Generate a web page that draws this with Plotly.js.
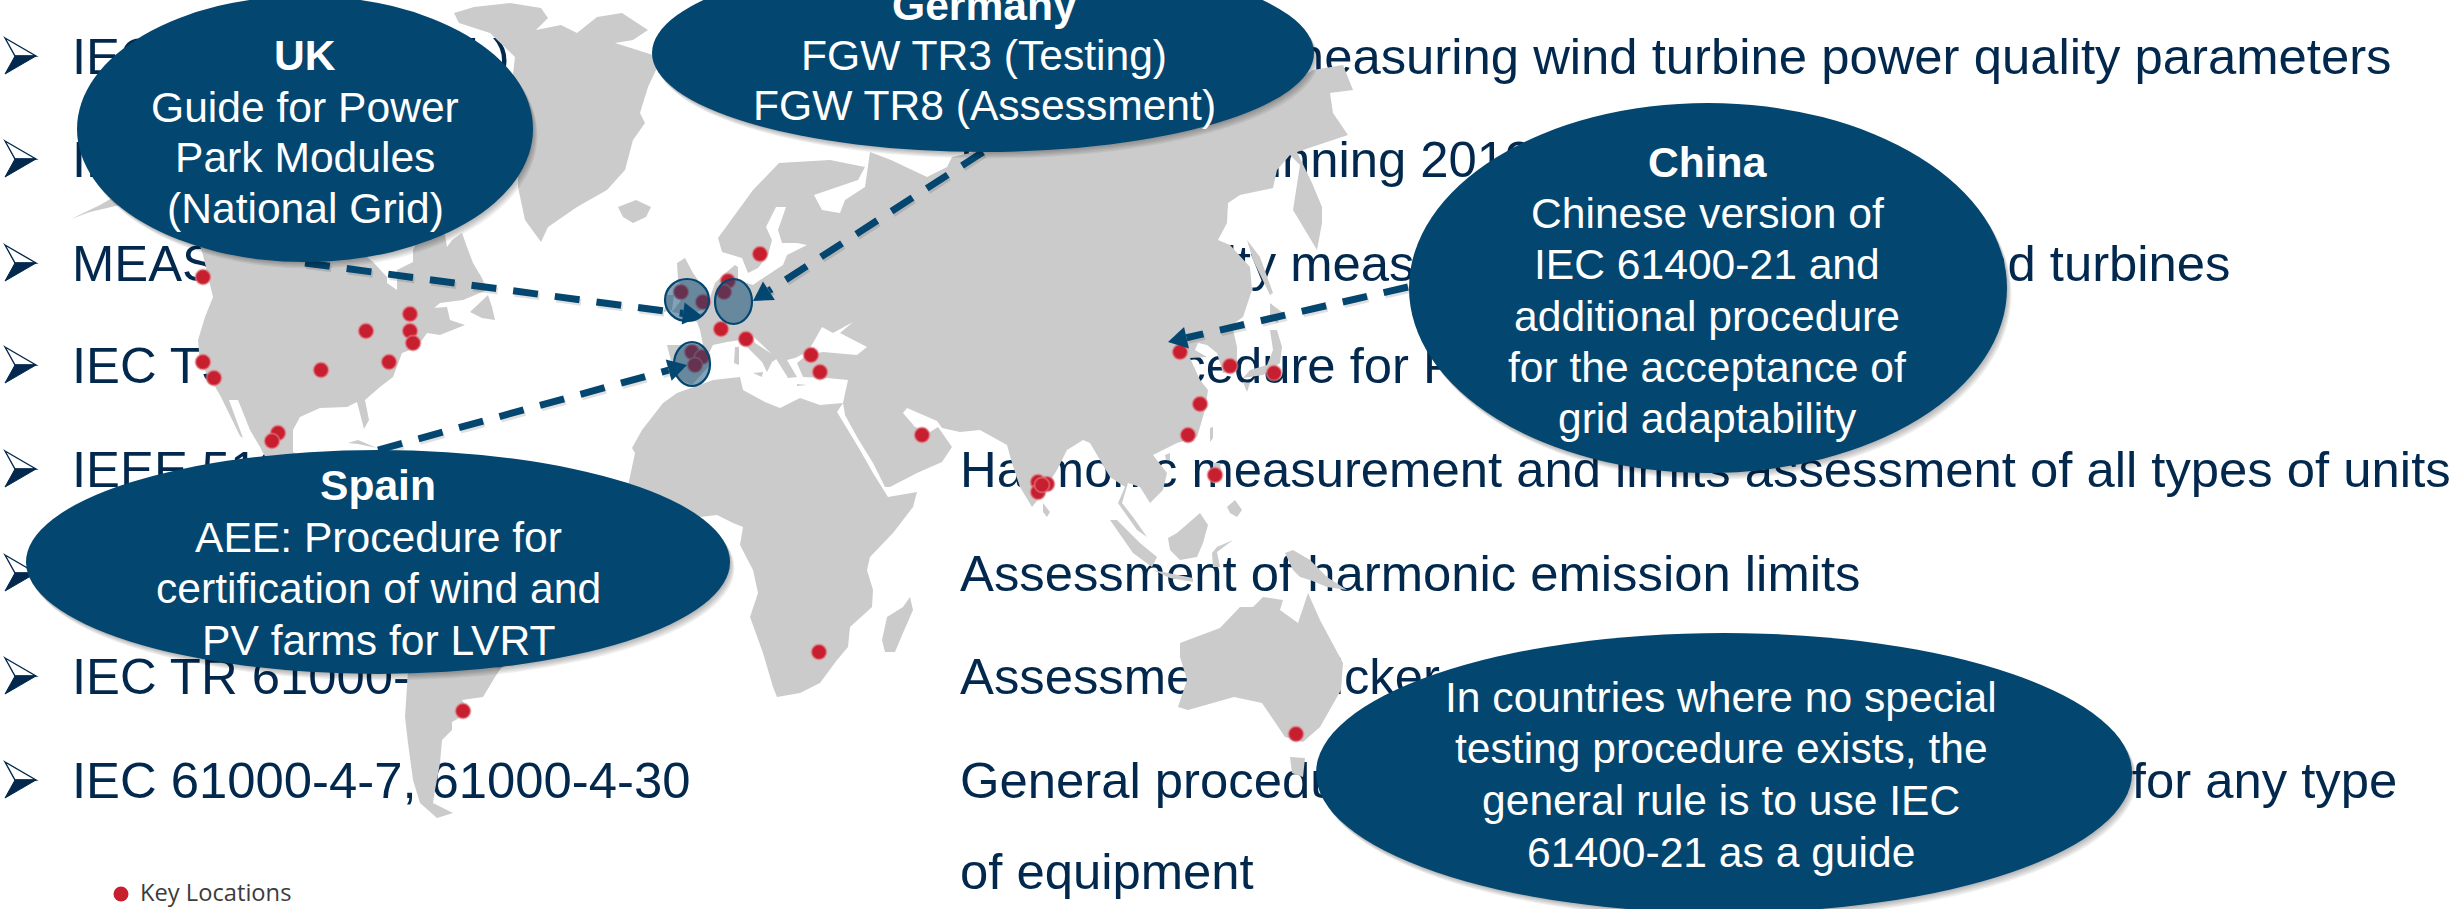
<!DOCTYPE html>
<html>
<head>
<meta charset="utf-8">
<script src="https://cdn.plot.ly/plotly-3.0.1.min.js"></script>
<style>
html,body{margin:0;padding:0;background:#fff;overflow:hidden}
#slide{width:2450px;height:909px}
</style>
</head>
<body>
<div id="slide"></div>
<script>
// Standards listed down the slide
const standards = ["IEC 61400-21 (Ed.)","IEC 61400-21 series","MEASNET","IEC TS 61400","IEEE 519","IEC TR 61000-3-6","IEC TR 61000-3-7","IEC 61000-4-7, 61000-4-30"];
const standardRows = [56,159,263,365,469,573,676,780];
const descriptions = [
  "Procedure for measuring wind turbine power quality parameters",
  "Expected beginning 2019",
  "Power Quality measurement procedure for wind turbines",
  "Same procedure for PV",
  "Harmonic measurement and limits assessment of all types of units",
  "Assessment of harmonic emission limits",
  "Assessment of flicker emission limits",
  "General procedure for assessing power quality dips for any type",
  "of equipment"
];
const descriptionRows = [56,159,263,365,469,573,676,780,871];

// Land outlines
const eurasia = [[667,345],[690,345],[703,345],[700,330],[697,322],[687,318],[705,312],[715,283],[723,275],[735,265],[738,267],[738,280],[753,285],[760,280],[773,272],[783,265],[787,255],[807,245],[797,243],[782,243],[778,230],[786,207],[776,207],[766,227],[772,240],[768,255],[758,268],[748,273],[742,258],[722,252],[718,238],[733,217],[753,190],[779,163],[830,160],[865,167],[858,180],[814,195],[822,210],[840,213],[845,200],[865,187],[870,152],[891,160],[927,177],[947,167],[952,157],[983,150],[1100,120],[1250,110],[1313,70],[1343,65],[1353,90],[1330,93],[1333,113],[1348,135],[1323,143],[1297,152],[1312,183],[1322,207],[1322,223],[1317,250],[1293,210],[1300,165],[1290,155],[1277,170],[1273,188],[1240,195],[1228,203],[1227,223],[1218,240],[1230,245],[1250,267],[1252,290],[1243,317],[1232,325],[1237,347],[1237,370],[1223,373],[1217,353],[1207,345],[1198,343],[1195,350],[1207,357],[1190,358],[1200,380],[1208,390],[1205,410],[1197,437],[1177,443],[1153,455],[1167,473],[1163,490],[1150,503],[1140,487],[1128,483],[1122,503],[1133,517],[1147,537],[1137,530],[1118,503],[1125,487],[1110,477],[1090,443],[1083,440],[1067,450],[1057,470],[1040,497],[1032,507],[1020,487],[1012,463],[1007,445],[998,440],[980,430],[960,432],[942,428],[937,421],[907,408],[903,413],[915,427],[930,432],[938,427],[952,447],[942,462],[917,473],[890,487],[885,487],[873,463],[857,437],[845,415],[843,403],[848,380],[827,378],[803,377],[797,363],[807,355],[823,352],[857,355],[867,347],[853,340],[840,333],[853,322],[833,333],[822,327],[813,343],[807,352],[795,358],[787,360],[797,377],[788,378],[780,365],[775,357],[757,340],[750,333],[755,343],[770,353],[778,358],[772,362],[767,372],[762,362],[752,352],[740,340],[727,342],[713,345],[708,355],[710,365],[692,385],[675,377]];
const africa = [[663,403],[677,393],[713,380],[740,377],[743,390],[765,402],[780,408],[800,398],[820,405],[843,403],[837,412],[860,450],[873,473],[888,497],[917,492],[913,507],[893,533],[870,557],[867,570],[873,590],[872,607],[850,627],[848,647],[837,660],[820,683],[800,693],[777,697],[773,687],[763,653],[750,617],[758,593],[753,570],[740,545],[743,527],[733,523],[717,515],[700,517],[650,560],[625,500],[630,477],[635,453],[632,448],[642,430]];
const northAmerica = [[198,240],[203,255],[213,297],[205,317],[198,340],[200,363],[213,383],[221,397],[240,436],[243,438],[229,400],[238,400],[250,430],[260,447],[275,475],[310,500],[340,495],[330,470],[293,452],[293,430],[300,417],[320,408],[347,407],[357,402],[364,429],[369,420],[365,400],[380,387],[393,377],[402,353],[410,350],[420,343],[427,333],[440,335],[465,325],[450,320],[447,307],[433,308],[420,320],[440,303],[463,300],[487,290],[482,278],[473,263],[467,247],[462,233],[452,240],[447,247],[445,235],[430,215],[413,250],[413,262],[397,270],[397,290],[387,283],[387,277],[373,262],[367,257],[340,230],[250,200],[198,200]];
const southAmerica = [[410,640],[405,717],[408,743],[413,780],[420,803],[437,818],[453,813],[433,803],[435,790],[440,763],[442,740],[452,730],[452,722],[470,712],[462,700],[483,697],[495,677],[520,640],[500,600],[410,600]];
const greenland = [[454,13],[474,7],[510,3],[541,8],[548,18],[536,30],[561,25],[577,33],[597,17],[622,13],[648,30],[633,40],[615,43],[653,55],[656,70],[648,87],[640,113],[645,123],[633,140],[625,170],[607,190],[577,207],[548,227],[541,242],[525,220],[518,187],[518,160],[510,100],[515,57],[490,33],[459,23]];
const aleutians = [[71,219],[100,205],[112,198],[120,205],[90,212]];
const iceland = [[618,207],[636,200],[651,207],[646,217],[633,223],[623,217]];
const newfoundland = [[470,312],[480,303],[488,295],[492,307],[495,320],[482,318]];
const cuba = [[348,443],[358,440],[377,448],[358,444]];
const britain = [[677,263],[685,258],[693,273],[705,290],[712,305],[690,315],[672,312],[685,295],[678,280]];
const ireland = [[667,295],[674,295],[672,310],[664,312]];
const sardinia = [[735,347],[739,347],[739,365],[734,363]];
const sicily = [[753,373],[763,372],[762,377]];
const crete = [[797,384],[807,385],[797,386]];
const madagascar = [[910,597],[913,610],[903,633],[895,652],[885,652],[882,640],[887,617],[903,607]];
const australia = [[1180,643],[1220,628],[1240,607],[1253,607],[1263,597],[1283,600],[1280,610],[1298,623],[1308,593],[1320,620],[1343,663],[1341,690],[1320,727],[1303,742],[1285,737],[1269,713],[1262,703],[1234,697],[1188,710],[1178,707],[1187,680],[1180,657]];
const tasmania = [[1290,757],[1305,758],[1303,777],[1292,773]];
const newGuinea = [[1285,553],[1293,550],[1310,560],[1327,577],[1347,590],[1327,587],[1310,580],[1300,577],[1293,570]];
const borneo = [[1168,538],[1177,533],[1200,513],[1208,525],[1203,543],[1197,557],[1180,560],[1170,550]];
const sumatra = [[1110,520],[1117,520],[1140,543],[1157,557],[1152,567],[1133,553]];
const java = [[1153,570],[1167,573],[1193,578],[1193,582],[1170,578]];
const sulawesi = [[1212,553],[1217,547],[1233,540],[1217,552],[1220,567],[1213,567]];
const luzon = [[1213,463],[1220,463],[1222,480],[1213,483]];
const mindanao = [[1227,507],[1235,500],[1242,510],[1237,517],[1230,513]];
const sriLanka = [[1043,503],[1050,512],[1047,517],[1043,512]];
const taiwan = [[1210,428],[1213,427],[1213,438],[1210,442]];
const hainan = [[1165,455],[1170,453],[1170,460],[1166,460]];
const honshu = [[1270,330],[1277,330],[1282,347],[1280,363],[1263,375],[1243,378],[1250,370],[1267,365],[1273,350]];
const hokkaido = [[1270,303],[1283,313],[1277,323],[1270,317]];
const kyushu = [[1243,382],[1250,383],[1247,392]];
const sakhalin = [[1247,240],[1260,257],[1273,293],[1270,295],[1253,260]];
const landMasses = [eurasia,africa,northAmerica,southAmerica,greenland,aleutians,iceland,newfoundland,cuba,britain,ireland,sardinia,sicily,crete,madagascar,australia,tasmania,newGuinea,borneo,sumatra,java,sulawesi,luzon,mindanao,sriLanka,taiwan,hainan,honshu,hokkaido,kyushu,sakhalin];

// Key locations
const siteX = [203,203,214,366,410,410,413,389,321,278,272,760,728,724,681,703,721,746,692,702,695,811,820,922,1038,1047,1038,1042,1215,1200,1188,1180,1230,1274,819,463,499,1296];
const siteY = [277,362,378,331,314,331,343,362,370,433,441,254,281,292,292,302,329,339,352,357,365,355,372,435,482,484,492,485,475,404,435,352,366,373,652,711,660,734];

// Country callouts: centre and radii, then one row per text line
const calloutCx = [305,983,1708,378,1724];
const calloutCy = [129,53,288,562,773];
const calloutRx = [228,331,299,352,408];
const calloutRy = [133,99,185,112,140];
const calloutLines = [
  {text:"UK",x:305,y:55,bold:true},
  {text:"Guide for Power",x:305,y:107},
  {text:"Park Modules",x:305,y:157},
  {text:"(National Grid)",x:305,y:208},
  {text:"Germany",x:984,y:5,bold:true},
  {text:"FGW TR3 (Testing)",x:984,y:55},
  {text:"FGW TR8 (Assessment)",x:984,y:105},
  {text:"China",x:1707,y:162,bold:true},
  {text:"Chinese version of",x:1707,y:213},
  {text:"IEC 61400-21 and",x:1707,y:264},
  {text:"additional procedure",x:1707,y:316},
  {text:"for the acceptance of",x:1707,y:367},
  {text:"grid adaptability",x:1707,y:418},
  {text:"Spain",x:378,y:485,bold:true},
  {text:"AEE: Procedure for",x:378,y:537},
  {text:"certification of wind and",x:378,y:588},
  {text:"PV farms for LVRT",x:378,y:640},
  {text:"In countries where no special",x:1721,y:697},
  {text:"testing procedure exists, the",x:1721,y:748},
  {text:"general rule is to use IEC",x:1721,y:800},
  {text:"61400-21 as a guide",x:1721,y:852}
];

// Translucent rings round the countries
const ringCx = [687,733.5,692];
const ringCy = [300,301.5,364];
const ringRx = [22,18.5,18];
const ringRy = [21,22.5,22];

// Dashed leaders: start and arrow tip
const leaderStartX = [305,983,378,1408];
const leaderStartY = [263,152,450,287];
const leaderTipX = [702,753,687,1168];
const leaderTipY = [316,301,365,342];

const NAVY = "#034670";
const INK = "#02284d";
const LAND = "#cbcbcb";
const RED = "#c81f30";
const FACE = "Liberation Sans, Arial, sans-serif";
const BODY_SIZE = 50.8;
const BASELINE_NUDGE = 5;

function ellipse(cx, cy, rx, ry, style) {
  return Object.assign({type:"circle",xref:"x",yref:"y",layer:"above",x0:cx-rx,x1:cx+rx,y0:cy-ry,y1:cy+ry,line:{width:0}}, style);
}

// Land as one filled trace, each outline separated by a gap
const landX = [], landY = [];
landMasses.forEach(function (poly) {
  poly.forEach(function (p) { landX.push(p[0]); landY.push(p[1]); });
  landX.push(poly[0][0], null); landY.push(poly[0][1], null);
});

const traces = [
  {x:standards.map(()=>72),y:standardRows.map(v=>v+BASELINE_NUDGE),text:standards,mode:"text",textposition:"middle right",cliponaxis:false,
   textfont:{family:FACE,size:BODY_SIZE,color:INK},hoverinfo:"skip"},
  {x:descriptions.map(()=>960),y:descriptionRows.map(v=>v+BASELINE_NUDGE),text:descriptions,mode:"text",textposition:"middle right",cliponaxis:false,
   textfont:{family:FACE,size:BODY_SIZE,color:INK},hoverinfo:"skip"},
  {x:landX,y:landY,mode:"lines",fill:"toself",fillcolor:LAND,line:{width:0,color:LAND},hoverinfo:"skip"},
  {x:siteX,y:siteY,mode:"markers",marker:{size:15,color:RED,line:{width:2,color:"rgba(225,130,135,0.55)"}},hoverinfo:"skip"},
  {x:[121],y:[894],mode:"markers",marker:{size:15,color:RED},hoverinfo:"skip"},
  {x:[140],y:[895],text:["Key Locations"],mode:"text",textposition:"middle right",cliponaxis:false,
   textfont:{family:"Open Sans",size:23.7,color:"#3c3c3c"},hoverinfo:"skip"}
];

const shapes = [];
// Two-tone arrowhead bullets beside each standard
standardRows.forEach(function (y) {
  shapes.push({type:"path",xref:"x",yref:"y",layer:"below",fillcolor:"#ffffff",line:{width:1.4,color:INK},
    path:"M5,"+(y-18)+"L36,"+y+"L15,"+y+"Z"});
  shapes.push({type:"path",xref:"x",yref:"y",layer:"below",fillcolor:INK,line:{width:1,color:INK},
    path:"M5,"+(y+18)+"L36,"+y+"L15,"+y+"Z"});
});
ringCx.forEach(function (cx, i) {
  shapes.push(ellipse(cx, ringCy[i], ringRx[i], ringRy[i], {fillcolor:"rgba(3,70,112,0.5)",line:{width:2.2,color:NAVY}}));
});
leaderTipX.forEach(function (tx, i) {
  const sx = leaderStartX[i], sy = leaderStartY[i], ty = leaderTipY[i];
  const len = Math.hypot(tx-sx, ty-sy), ux = (tx-sx)/len, uy = (ty-sy)/len;
  const bx = tx-ux*19, by = ty-uy*19;
  shapes.push({type:"line",xref:"x",yref:"y",layer:"above",x0:sx+1.5,y0:sy+2.5,x1:bx+1.5,y1:by+2.5,line:{width:7,color:"rgba(0,0,0,0.12)",dash:"25px,17px"}});
  shapes.push({type:"line",xref:"x",yref:"y",layer:"above",x0:sx,y0:sy,x1:bx,y1:by,line:{width:7,color:NAVY,dash:"25px,17px"}});
  shapes.push({type:"path",xref:"x",yref:"y",layer:"above",fillcolor:NAVY,line:{width:0},
    path:"M"+tx+","+ty+"L"+(bx-uy*11)+","+(by+ux*11)+"L"+(bx+uy*11)+","+(by-ux*11)+"Z"});
});
calloutCx.forEach(function (cx, i) {
  for (let k = 1; k <= 5; k++) {
    shapes.push(ellipse(cx+k*0.9, calloutCy[i]+k*1.3, calloutRx[i], calloutRy[i], {fillcolor:"rgba(0,0,0,0.06)"}));
  }
  shapes.push(ellipse(cx, calloutCy[i], calloutRx[i], calloutRy[i], {fillcolor:NAVY}));
});

const annotations = calloutLines.map(function (l) {
  return {xref:"x",yref:"y",x:l.x,y:l.y,text:l.bold?"<b>"+l.text+"</b>":l.text,showarrow:false,xanchor:"center",yanchor:"middle",
          font:{family:FACE,size:42.6,color:"#ffffff"}};
});

Plotly.newPlot("slide", traces, {
  width:2450,height:909,margin:{l:0,r:0,t:0,b:0,pad:0},showlegend:false,
  paper_bgcolor:"#ffffff",plot_bgcolor:"rgba(0,0,0,0)",
  xaxis:{range:[0,2450],visible:false,fixedrange:true},
  yaxis:{range:[909,0],visible:false,fixedrange:true},
  shapes:shapes,annotations:annotations
},{displayModeBar:false,staticPlot:true});
</script>
</body>
</html>
